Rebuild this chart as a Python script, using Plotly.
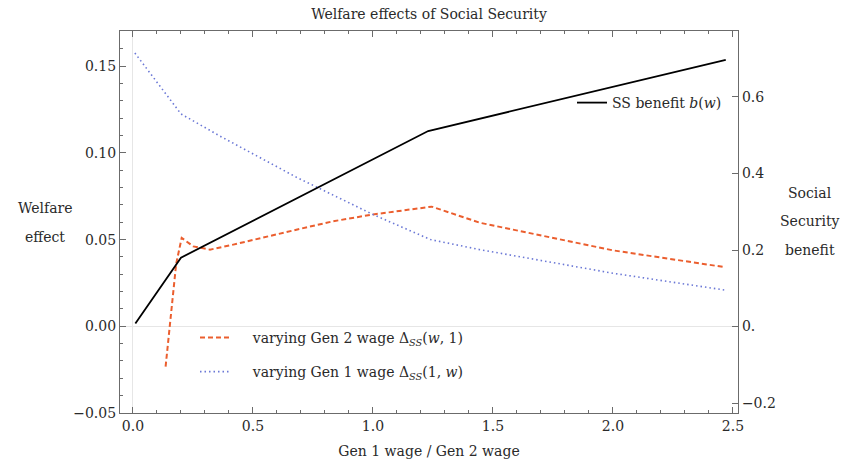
import plotly.graph_objects as go

# ---- data ----
ss_w = [0.01, 0.20, 1.23, 2.47]
ss_b = [0.008, 0.180, 0.511, 0.697]

gen2_w = [0.136, 0.180, 0.203, 0.251, 0.321, 0.418, 0.696, 0.835, 1.0, 1.245, 1.446, 1.724, 2.0, 2.467]
gen2_d = [-0.0233, 0.036, 0.051, 0.0461, 0.0442, 0.0471, 0.0562, 0.0606, 0.0645, 0.069, 0.0597, 0.0516, 0.0438, 0.0341]

gen1_w = [0.008, 0.2, 0.3625, 0.682, 1.0, 1.24, 1.446, 1.724, 2.0, 2.467]
gen1_d = [0.1576, 0.1225, 0.1097, 0.0859, 0.0645, 0.050, 0.0442, 0.0374, 0.0306, 0.0209]

x_ticks = [0.0, 0.5, 1.0, 1.5, 2.0, 2.5]
x_ticklabels = ["0.0", "0.5", "1.0", "1.5", "2.0", "2.5"]
yl_ticks = [-0.05, 0.0, 0.05, 0.10, 0.15]
yl_ticklabels = ["\u22120.05", "0.00", "0.05", "0.10", "0.15"]
yr_ticks = [-0.2, 0.0, 0.2, 0.4, 0.6]
yr_ticklabels = ["\u22120.2", "0.", "0.2", "0.4", "0.6"]

FONT = "DejaVu Serif"
FS = 14
AX = "#6b6b6b"
TXT = "#2a2a2a"

fig = go.Figure()

fig.add_trace(go.Scatter(
    x=ss_w, y=ss_b, yaxis="y2", mode="lines",
    line=dict(color="black", width=1.8),
    name="SS benefit <i>b</i>(<i>w</i>)", legend="legend"))

fig.add_trace(go.Scatter(
    x=gen2_w, y=gen2_d, mode="lines",
    line=dict(color="#EB5E2E", width=2, dash="5px,3px"),
    name="\u00a0\u00a0\u00a0\u00a0varying Gen 2 wage \u0394<sub><i>SS</i></sub>(<i>w</i>, 1)", legend="legend2"))

fig.add_trace(go.Scatter(
    x=gen1_w, y=gen1_d, mode="lines",
    line=dict(color="#6B78D6", width=1.6, dash="1.5px,3px"),
    name="\u00a0\u00a0\u00a0\u00a0varying Gen 1 wage \u0394<sub><i>SS</i></sub>(1, <i>w</i>)", legend="legend3"))

L, R, T, B = 120, 106, 31, 55
W, H = 844, 468
pw, ph = W - L - R, H - T - B

def px_x(p):
    return (p - L) / pw

def px_y(p):
    return (H - B - p) / ph

tf = dict(family=FONT, size=FS, color=TXT)
legend_common = dict(bgcolor="rgba(0,0,0,0)", font=tf,
                     xanchor="left", yanchor="middle", itemwidth=30, tracegroupgap=0)

fig.update_layout(
    width=W, height=H,
    margin=dict(l=L, r=R, t=T, b=B),
    paper_bgcolor="white", plot_bgcolor="white",
    font=tf,
    title=dict(text="Welfare effects of Social Security", x=(L + pw / 2) / W, xanchor="center",
               y=1 - 14 / H, yanchor="middle", font=tf),
    showlegend=True,
    legend=dict(x=px_x(572), y=px_y(103), **legend_common),
    legend2=dict(x=px_x(195), y=px_y(338), **legend_common),
    legend3=dict(x=px_x(195), y=px_y(372), **legend_common),
    xaxis=dict(
        range=[-0.054, 2.521], tickvals=x_ticks, ticktext=x_ticklabels,
        showline=True, linecolor=AX, linewidth=1.2, mirror="ticks",
        ticks="inside", ticklen=6, tickcolor=AX, tickwidth=1,
        minor=dict(dtick=0.1, ticks="inside", ticklen=3, tickcolor=AX, tickwidth=1, showgrid=False),
        showgrid=False, zeroline=True, zerolinecolor="#e6e6e6", zerolinewidth=1,
        tickfont=tf,
        title=dict(text="Gen 1 wage / Gen 2 wage", standoff=13, font=tf),
    ),
    yaxis=dict(
        range=[-0.05, 0.1703], tickvals=yl_ticks, ticktext=yl_ticklabels,
        showline=True, linecolor=AX, linewidth=1.2, mirror=False,
        ticks="inside", ticklen=6, tickcolor=AX, tickwidth=1,
        minor=dict(dtick=0.01, ticks="inside", ticklen=3, tickcolor=AX, tickwidth=1, showgrid=False),
        showgrid=False, zeroline=True, zerolinecolor="#e6e6e6", zerolinewidth=1,
        tickfont=tf,
    ),
    yaxis2=dict(
        overlaying="y", side="right", range=[-0.226, 0.7725],
        tickvals=yr_ticks, ticktext=yr_ticklabels,
        showline=True, linecolor=AX, linewidth=1.2,
        ticks="inside", ticklen=6, tickcolor=AX, tickwidth=1,
        showgrid=False, zeroline=False,
        tickfont=tf,
    ),
)

# horizontal axis titles (as in the reference)
for txt, yp in [("Welfare", 208), ("effect", 237)]:
    fig.add_annotation(text=txt, xref="paper", yref="paper", x=px_x(45), y=px_y(yp),
                       xanchor="center", yanchor="middle", showarrow=False, font=tf)
for txt, yp in [("Social", 193), ("Security", 221), ("benefit", 250)]:
    fig.add_annotation(text=txt, xref="paper", yref="paper", x=px_x(810), y=px_y(yp),
                       xanchor="center", yanchor="middle", showarrow=False, font=tf)

fig.write_html("out.html")
